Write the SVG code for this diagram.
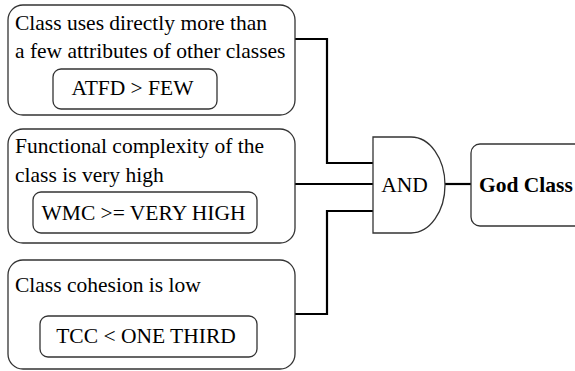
<svg xmlns="http://www.w3.org/2000/svg" width="575" height="371" viewBox="0 0 575 371">
  <style>
    .box { fill: #fff; stroke: #333; stroke-width: 1.3; }
    .wire { fill: none; stroke: #000; stroke-width: 2.2; }
    .t { font-family: 'Liberation Serif', 'Times New Roman', serif; font-size: 21.5px; fill: #000; }
    .mid { text-anchor: middle; }
    .bold { font-weight: bold; }
  </style>
  <rect width="575" height="371" fill="#fff"/>

  <g id="connectors">
    <polyline class="wire" points="295,39 327,39 327,163 373,163"/>
    <line class="wire" x1="295" y1="184" x2="373" y2="184"/>
    <polyline class="wire" points="295,314 327,314 327,211 373,211"/>
    <line class="wire" x1="445" y1="184" x2="471" y2="184"/>
  </g>

  <g id="cond-atfd">
    <rect class="box" x="8" y="5" width="287" height="110" rx="15"/>
    <text class="t" x="15" y="30">Class uses directly more than</text>
    <text class="t" x="15" y="58">a few attributes of other classes</text>
    <rect class="box" x="53" y="69" width="164" height="40" rx="8"/>
    <text class="t mid" x="132.5" y="95">ATFD &gt; FEW</text>
  </g>

  <g id="cond-wmc">
    <rect class="box" x="8" y="129" width="287" height="114" rx="15"/>
    <text class="t" x="15" y="153">Functional complexity of the</text>
    <text class="t" x="15" y="182">class is very high</text>
    <rect class="box" x="33" y="192" width="224" height="41" rx="8"/>
    <text class="t mid" x="143.5" y="220">WMC &gt;= VERY HIGH</text>
  </g>

  <g id="cond-tcc">
    <rect class="box" x="8" y="260" width="287" height="109" rx="15"/>
    <text class="t" x="15" y="292">Class cohesion is low</text>
    <rect class="box" x="40" y="316" width="217" height="41" rx="8"/>
    <text class="t mid" x="146" y="343">TCC &lt; ONE THIRD</text>
  </g>

  <g id="and-gate">
    <path class="box" d="M373,137 H411 A34,48 0 0 1 411,233 H373 Z"/>
    <text class="t mid" x="404.5" y="192">AND</text>
  </g>

  <g id="god-class">
    <rect class="box" x="471" y="144" width="120" height="82" rx="9"/>
    <text class="t bold" x="479" y="192">God Class</text>
  </g>
</svg>
